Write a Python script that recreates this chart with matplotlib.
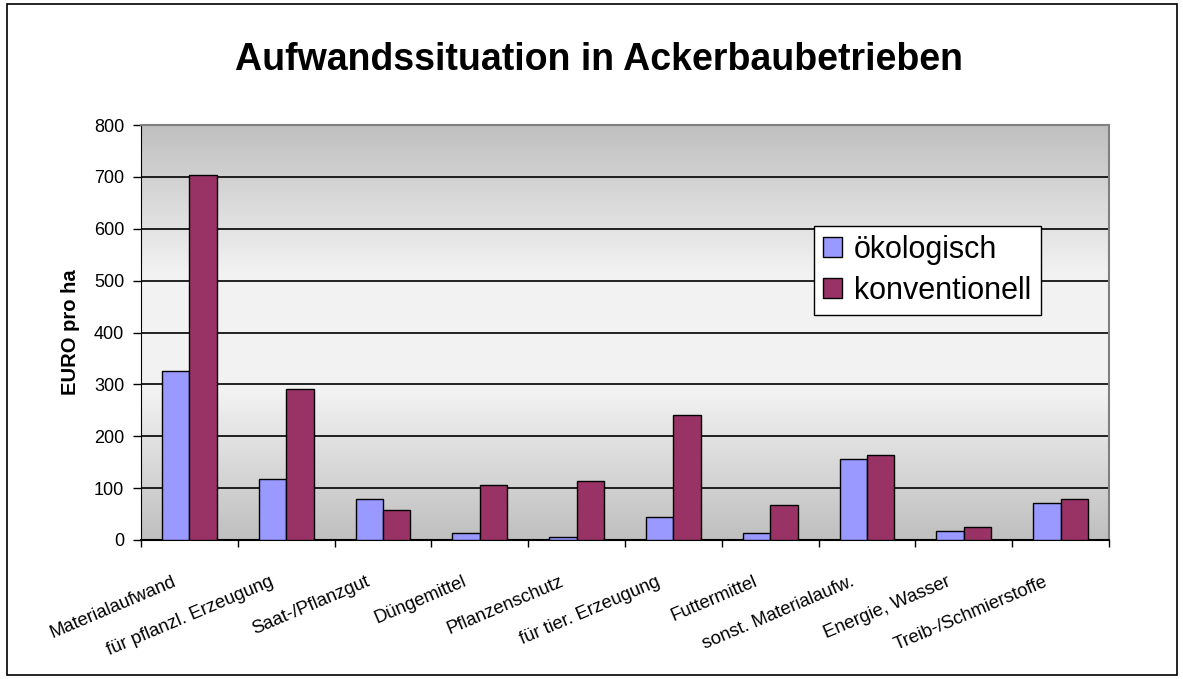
import numpy as np
import matplotlib
matplotlib.use("Agg")
import matplotlib.pyplot as plt
from matplotlib.patches import Rectangle

categories = ["Materialaufwand", "für pflanzl. Erzeugung", "Saat-/Pflanzgut", "Düngemittel",
              "Pflanzenschutz", "für tier. Erzeugung", "Futtermittel", "sonst. Materialaufw.",
              "Energie, Wasser", "Treib-/Schmierstoffe"]
oeko = [325, 118, 80, 14, 6, 45, 14, 157, 18, 72]
konv = [703, 292, 57, 106, 114, 241, 68, 164, 26, 80]
series_names = ["ökologisch", "konventionell"]
yticks = [0, 100, 200, 300, 400, 500, 600, 700, 800]
title = "Aufwandssituation in Ackerbaubetrieben"
ylabel = "EURO pro ha"

plt.rcParams['font.family'] = ['Liberation Sans', 'DejaVu Sans']

fig = plt.figure(figsize=(11.83, 6.79), dpi=100)
ax = fig.add_axes([141/1183, 139/679, 968/1183, 415/679])

n = len(categories)
x = np.arange(n)
grad = np.linspace(0, 1, 256)
vals = 1 - np.abs(grad - 0.5) * 2
vals = np.clip(vals * 1.4, 0, 1)
img = np.zeros((256, 1, 3))
lo, hi = 0.75, 0.95
for i in range(3):
    img[:, 0, i] = lo + (hi - lo) * vals
ax.imshow(img, extent=[-0.5, n - 0.5, 0, 800], aspect='auto', origin='lower', zorder=0)

w = 0.284
ax.bar(x - w/2, oeko, w, color='#9999ff', edgecolor='black', linewidth=1, label=series_names[0], zorder=3)
ax.bar(x + w/2, konv, w, color='#993366', edgecolor='black', linewidth=1, label=series_names[1], zorder=3)

ax.set_xlim(-0.5, n - 0.5)
ax.set_ylim(0, 800)
ax.set_yticks(yticks)
ax.set_yticklabels([str(v) for v in yticks], fontsize=13)
for v in yticks[1:-1]:
    ax.axhline(v, color='black', linewidth=1.2, zorder=2)

ax.set_xticks(np.arange(-0.5, n, 1.0))
ax.set_xticklabels([])
ax.tick_params(axis='x', direction='out', length=5, width=1)
ax.tick_params(axis='y', direction='out', length=6, width=1, pad=6)
for i, c in enumerate(categories):
    ax.annotate(c, xy=(i, 0), xycoords=('data', 'axes fraction'), xytext=(-10, -29.5),
                textcoords='offset points', rotation=23, rotation_mode='anchor',
                ha='right', va='center', fontsize=13.3)

ax.spines['left'].set_color('black')
ax.spines['bottom'].set_color('black')
ax.spines['bottom'].set_linewidth(1.5)
ax.spines['top'].set_color('#808080')
ax.spines['right'].set_color('#808080')
ax.spines['top'].set_linewidth(1.5)
ax.spines['right'].set_linewidth(1.5)

ax.set_ylabel(ylabel, fontsize=14.5, fontweight='bold', labelpad=10)

leg = ax.legend(loc='upper left', bbox_to_anchor=(0.695, 0.757), fontsize=22, frameon=True,
                fancybox=False, edgecolor='black', framealpha=1, handlelength=0.62, handleheight=0.62,
                handletextpad=0.4, borderpad=0.3, labelspacing=0.35, borderaxespad=0)
leg.get_frame().set_linewidth(1)

fig.text(0.506, 1 - 70/679, title, fontsize=27, fontweight='bold', ha='center', va='baseline')

fig.patches.append(Rectangle((7/1183, 4/679), 1170/1183, 671/679, transform=fig.transFigure,
                             fill=False, edgecolor='black', linewidth=1.2))

fig.savefig("out.png", dpi=100)
